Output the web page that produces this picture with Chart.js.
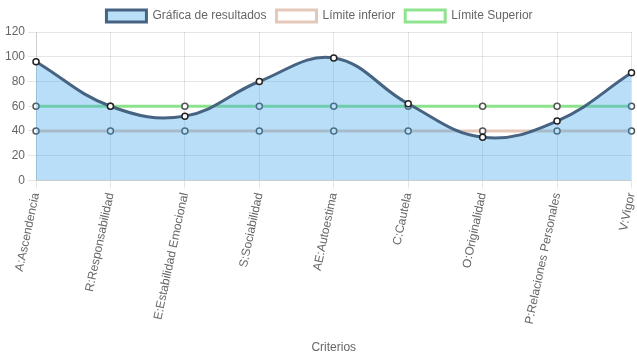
<!DOCTYPE html>
<html>
<head>
<meta charset="utf-8">
<script src="https://cdn.jsdelivr.net/npm/chart.js@4"></script>
<style>
  body { margin: 0; background: #fff; }
  #wrap { width: 637px; height: 359px; }
</style>
</head>
<body>
<div id="wrap"><canvas id="resultsChart"></canvas></div>
<script>
// valores
const criterios = ['A:Ascendencia', 'R:Responsabilidad', 'E:Estabilidad Emocional', 'S:Sociabilidad',
  'AE:Autoestima', 'C:Cautela', 'O:Originalidad', 'P:Relaciones Personales', 'V:Vigor'];
const resultados = [96, 60, 52, 80, 99, 62, 35, 48, 87];
const limiteInferior = [40, 40, 40, 40, 40, 40, 40, 40, 40];
const limiteSuperior = [60, 60, 60, 60, 60, 60, 60, 60, 60];

Chart.defaults.font.family = '"Liberation Sans", Arial, sans-serif';
Chart.defaults.font.size = 12;
Chart.defaults.color = '#666';

const ctx = document.getElementById('resultsChart').getContext('2d');
new Chart(ctx, {
  type: 'line',
  data: {
    labels: criterios,
    datasets: [{
      label: 'Gráfica de resultados',
      data: resultados,
      borderColor: 'rgb(70, 100, 130)',
      backgroundColor: 'rgba(54, 162, 235, 0.35)',
      borderWidth: 3,
      fill: 'origin',
      tension: 0.4,
      pointRadius: 3,
      pointBorderWidth: 1.5,
      pointBorderColor: '#222',
      pointBackgroundColor: '#fff'
    }, {
      label: 'Límite inferior',
      data: limiteInferior,
      borderColor: 'rgba(225, 195, 180, 0.9)',
      backgroundColor: '#fff',
      borderWidth: 3,
      fill: false,
      pointRadius: 3,
      pointBorderWidth: 1.5,
      pointBorderColor: '#555',
      pointBackgroundColor: '#fff'
    }, {
      label: 'Límite Superior',
      data: limiteSuperior,
      borderColor: 'rgba(130, 225, 130, 0.9)',
      backgroundColor: '#fff',
      borderWidth: 3,
      fill: false,
      pointRadius: 3,
      pointBorderWidth: 1.5,
      pointBorderColor: '#555',
      pointBackgroundColor: '#fff'
    }]
  },
  options: {
    responsive: true,
    maintainAspectRatio: false,
    animation: false,
    layout: { padding: { left: 2 } },
    plugins: {
      legend: { position: 'top' }
    },
    scales: {
      x: {
        ticks: { minRotation: 78, maxRotation: 78 },
        title: { display: true, text: 'Criterios', padding: { top: 12, bottom: 4 } },
        afterFit: (scale) => { scale.paddingRight = 0; }
      },
      y: {
        min: 0,
        max: 120,
        ticks: { stepSize: 20 }
      }
    }
  }
});
</script>
</body>
</html>
